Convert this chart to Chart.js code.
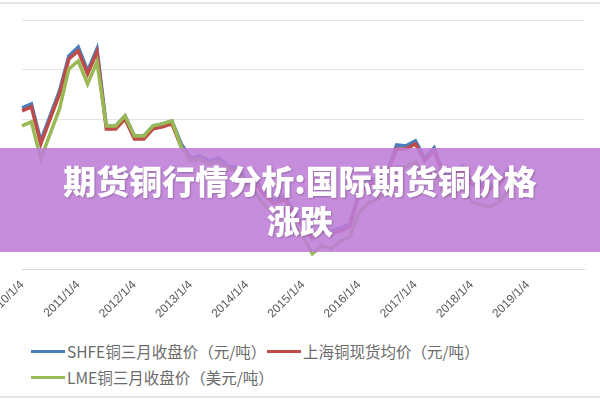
<!DOCTYPE html>
<html>
<head>
<meta charset="utf-8">
<script src="https://cdn.jsdelivr.net/npm/chart.js@4"></script>
<style>
  body { margin: 0; width: 600px; height: 400px; overflow: hidden; background: #fff; position: relative; font-family: "Noto Sans CJK SC", sans-serif; }
  #wrap { position: absolute; left: -14px; top: 0; width: 616px; height: 324px; }
  .frame { position: absolute; left: 0; right: 0; height: 2px; background: #e6e6e6; }
  .legend { position: absolute; font-size: 15.5px; color: #6b6b6b; display: flex; align-items: center; }
  .legend i { display: inline-block; width: 34px; height: 3px; margin-right: 2px; }
  #banner { position: absolute; left: 0; top: 148px; width: 600px; height: 104px; background: rgba(190, 125, 215, 0.88);
    color: #fff; font-weight: 900; font-size: 33px; text-align: center; line-height: 40px; padding-top: 12px; box-sizing: border-box;
    text-shadow: 1px 1px 2px rgba(0,0,0,0.25); }
</style>
</head>
<body>
<div class="frame" style="top:2px"></div>
<div class="frame" style="top:396px"></div>
<div id="wrap"><canvas id="c"></canvas></div>
<div class="legend" style="left:31px;top:340px"><i style="background:#4a7ebb"></i>SHFE铜三月收盘价（元/吨）</div>
<div class="legend" style="left:267px;top:340px"><i style="background:#be4b48"></i>上海铜现货均价（元/吨）</div>
<div class="legend" style="left:31px;top:366px"><i style="background:#98b954"></i>LME铜三月收盘价（美元/吨）</div>
<div id="banner">期货铜行情分析:国际期货铜价格<br>涨跌</div>
<script>
const tickYears = ['2010', '2011', '2012', '2013', '2014', '2015', '2016', '2017', '2018', '2019', '2020'];
const tickMonths = ['1', '3', '5', '7', '9', '11'];

const shfe = [62400,63200,55800,60800,65800,72800,74600,69800,74200,58800,58800,60800,56800,56800,58800,59200,59800,55200,52400,52800,51800,52400,50800,50400,47800,47800,45200,43800,44800,41800,39200,36800,38400,37800,38400,39200,45800,47600,48400,49800,55000,54800,55800,52400,54400,49200,49200,50800,47800,47200,46800,47800,50400];
const spot = [61800,62600,55200,60200,65200,72200,73800,69200,73600,58200,58200,60200,56200,56200,58200,58600,59200,54600,51800,52200,51200,51800,50200,49800,47200,47200,44600,43200,44200,41200,38600,36200,37800,37200,37800,38600,45200,47000,47800,49200,54200,54200,55200,51800,53800,48600,48600,50200,47200,46600,46200,47200,49800];
const lme = [58800,59600,52200,57200,62200,70200,71800,67200,71600,58800,58800,60800,56800,56800,58800,59200,59800,54600,51800,52200,51200,51800,50200,49800,47200,45200,42600,41200,42200,39200,36600,33200,34800,34200,35800,36600,41600,43400,44200,45600,50600,50600,51600,48200,50200,45000,45000,46600,43600,43000,42600,43600,46200];

const labels = [];
tickYears.forEach((y, yi) => tickMonths.forEach(m => { if (yi < tickYears.length - 1 || m === '1') labels.push(y + '/' + m + '/4'); }));

new Chart(document.getElementById('c'), {
  type: 'line',
  data: {
    labels: labels,
    datasets: [
      { label: 'SHFE铜三月收盘价（元/吨）', data: shfe, borderColor: '#4a7ebb', order: 2 },
      { label: '上海铜现货均价（元/吨）', data: spot, borderColor: '#be4b48', order: 1 },
      { label: 'LME铜三月收盘价（美元/吨）', data: lme, borderColor: '#98b954', order: 0 }
    ]
  },
  options: {
    responsive: true,
    maintainAspectRatio: false,
    animation: false,
    layout: { padding: { left: 0, right: 18, top: 20 } },
    elements: { point: { radius: 0 }, line: { borderWidth: 3.5, tension: 0 } },
    plugins: { legend: { display: false }, tooltip: { enabled: false } },
    scales: {
      x: {
        offset: false,
        grid: { display: false, drawTicks: true, tickLength: 5 },
        border: { color: '#d9d9d9' },
        ticks: {
          autoSkip: false, maxRotation: 45, minRotation: 45, color: '#595959',
          font: { size: 12, family: 'Liberation Sans' },
          callback: function (v, i) { return i % 6 === 0 && i < 60 ? labels[i] : ''; }
        }
      },
      y: {
        min: 30000, max: 80000,
        ticks: { stepSize: 10000, display: false },
        grid: { color: '#e3e3e3', drawTicks: false },
        border: { display: false }
      }
    }
  }
});
</script>
</body>
</html>
